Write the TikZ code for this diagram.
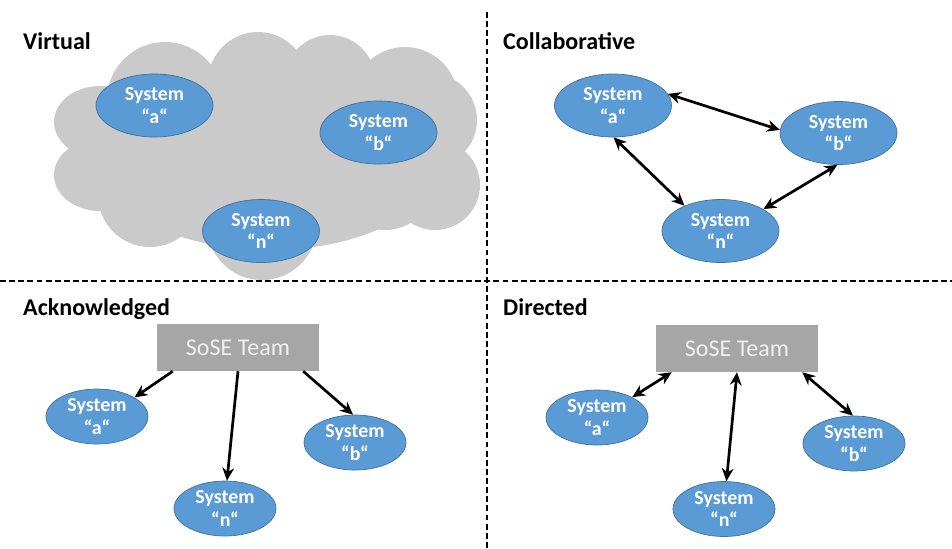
\documentclass[tikz,border=0pt]{standalone}
\usepackage{fontspec}
\setmainfont{Carlito}
\usetikzlibrary{shapes.geometric,arrows.meta}

\definecolor{sysblue}{HTML}{5B9BD5}
\definecolor{sysedge}{HTML}{41719C}
\definecolor{cloudgray}{HTML}{CACACA}
\definecolor{teamgray}{HTML}{A6A6A6}
\definecolor{teamtext}{HTML}{F0F0F0}

\tikzset{
  title/.style={anchor=base west, inner sep=0, font=\bfseries\fontsize{20.5}{24}\selectfont},
  sys/.style={ellipse, fill=sysblue, draw=sysedge, line width=0.6pt, text=white,
    align=center, inner sep=0, font=\bfseries\fontsize{17}{19}\selectfont},
  sysbig/.style={sys, minimum width=3.51cm, minimum height=1.89cm},
  syssmall/.style={sys, minimum width=3.06cm, minimum height=1.65cm},
  team/.style={rectangle, fill=teamgray, text=teamtext, minimum width=4.86cm,
    minimum height=1.41cm, font=\fontsize{20.5}{24}\selectfont},
  link/.style={line width=2.3pt, -{Stealth[length=11pt,width=10pt]}},
  dlink/.style={line width=2.3pt, {Stealth[length=11pt,width=10pt]}-{Stealth[length=11pt,width=10pt]}},
  divider/.style={line width=1.6pt, dash pattern=on 5pt off 2.8pt}
}

\begin{document}
\begin{tikzpicture}[x=0.03cm,y=-0.03cm]
\useasboundingbox (0,0) rectangle (952,548);

%Dividers
\draw[divider] (487,12) -- (487,548);
\draw[divider] (0,281) -- (952,281);

%Titles
\node[title] (tvirt) at (23,49) {Virtual};
\node[title] (tcoll) at (503,49) {Collaborative};
\node[title] (tack) at (23,315) {Acknowledged};
\node[title] (tdir) at (503,315) {Directed};

% Cloud
\fill[cloudgray] (270,160) ellipse (170 and 90)
  (100,122) ellipse (46 and 36) (100,175) ellipse (46 and 36)
  (150,195) circle (52) (262,225) circle (55)
  (385,180) circle (50) (435,185) circle (45)
  (430,120) circle (47) (405,100) circle (53)
  (330,80) circle (45) (258,82) circle (50) (165,100) circle (58);

% Virtual
\node[sysbig] (va) at (154.5,105.5) {System\\“a“};
\node[sysbig] (vb) at (378.5,132.5) {System\\“b“};
\node[sysbig] (vn) at (261,231) {System\\“n“};

% Collaborative
\node[sysbig] (ca) at (613,105.5) {System\\“a“};
\node[sysbig] (cb) at (838.5,133) {System\\“b“};
\node[sysbig] (cn) at (720.5,231) {System\\“n“};
\draw[dlink] (ca.12) -- (cb.177);
\draw[dlink] (ca.-89) -- (cn.145);
\draw[dlink] (cn.27) -- (cb.-92);

% Acknowledged
\node[team] (kteam) at (238,347.5) {SoSE Team};
\node[syssmall] (ka) at (97,416.5) {System\\“a“};
\node[syssmall] (kb) at (355,442.5) {System\\“b“};
\node[syssmall] (kn) at (225,508.5) {System\\“n“};
\draw[link] (kteam.-160) -- (ka.27);
\draw[link] (kteam.south) -- (kn.86);
\draw[link] (kteam.-20) -- (kb.94);

% Directed
\node[team] (dteam) at (737,348.5) {SoSE Team};
\node[syssmall] (da) at (597,417.5) {System\\“a“};
\node[syssmall] (db) at (854,443.5) {System\\“b“};
\node[syssmall] (dn) at (724,509) {System\\“n“};
\draw[dlink] (dteam.-160) -- (da.30);
\draw[dlink] (dteam.south) -- (dn.85);
\draw[dlink] (dteam.-20) -- (db.92);
\end{tikzpicture}
\end{document}
